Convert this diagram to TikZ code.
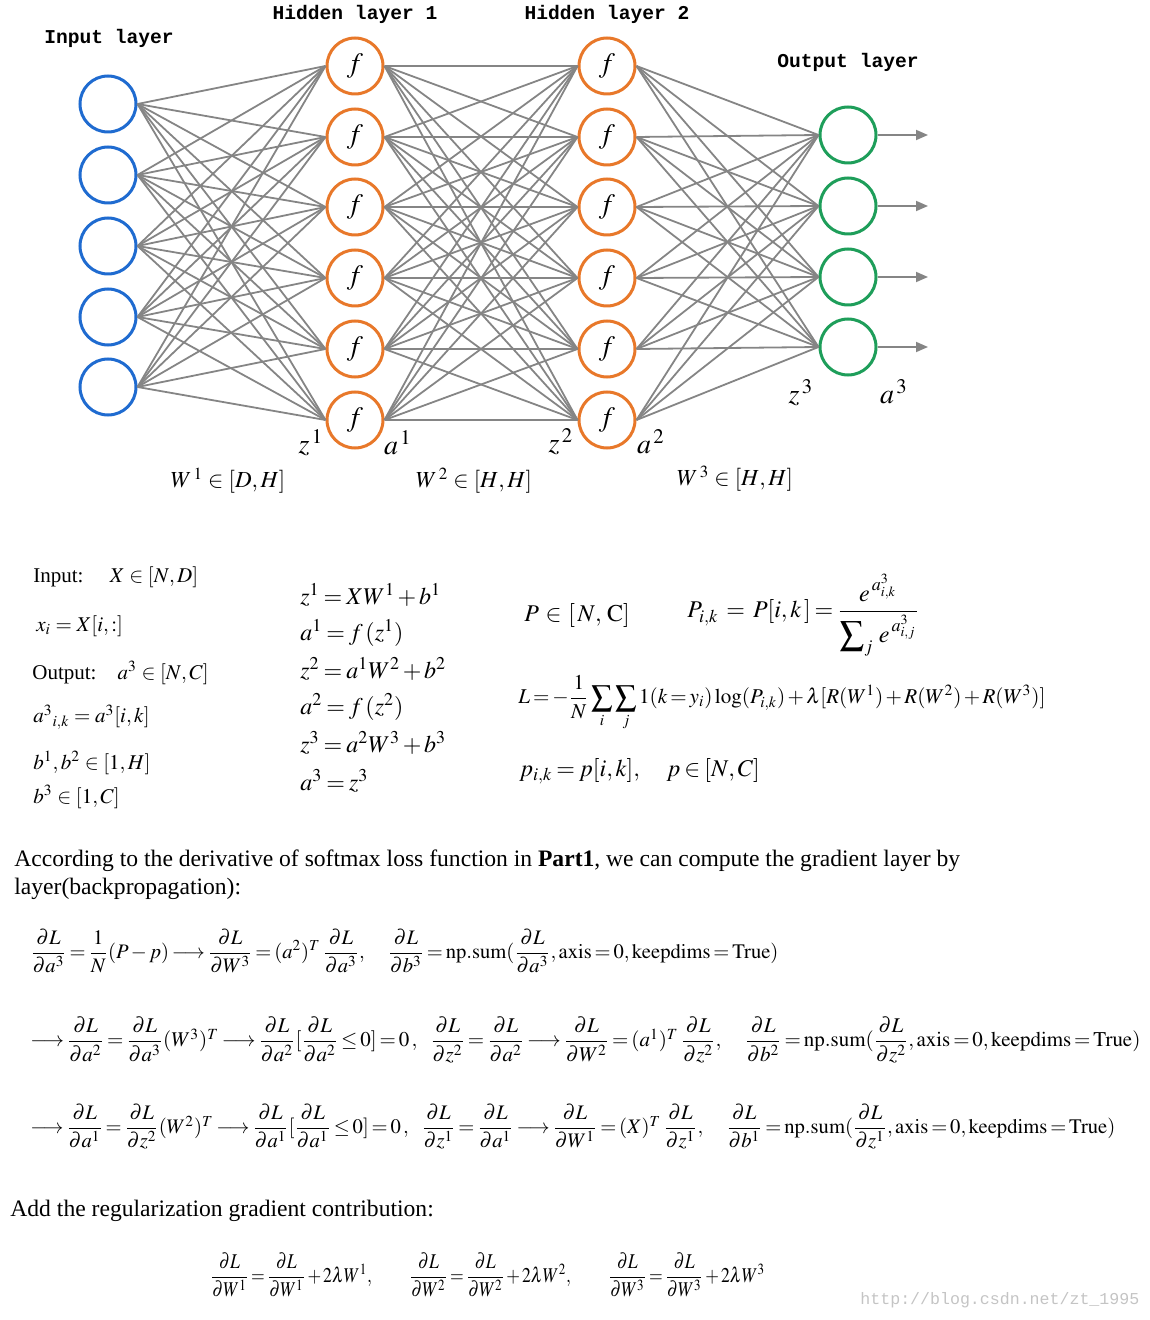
\documentclass[tikz,border=0pt]{standalone}
\usepackage{amsmath}
\usepackage{mathptmx}
\usepackage[no-math]{fontspec}
\setmainfont{Liberation Serif}
\newfontfamily\layerfont{Liberation Mono}
\usetikzlibrary{positioning, arrows.meta, calc}
\usepackage{xcolor}
\definecolor{netBlue}{HTML}{1F6BD0}
\definecolor{netOrange}{HTML}{E8782A}
\definecolor{netGreen}{HTML}{1E9E5A}
\definecolor{netGray}{HTML}{858585}
\definecolor{netMark}{HTML}{C4C4C4}
\newcommand{\dLd}[1]{\dfrac{\partial L}{\partial #1}}
\newcommand{\tightMath}{\thickmuskip=3mu plus 2mu\medmuskip=2mu plus 1mu}
\newcommand{\tighterMath}{\thickmuskip=2.5mu plus 1mu\medmuskip=2mu plus 1mu}

\begin{document}
\begin{tikzpicture}[
    x=0.5pt, y=-0.5pt,
    neuron/.style={
      circle, line width=1.5pt, fill=white,
      minimum size=28pt, inner sep=0pt
    },
    inNeuron/.style={neuron, draw=netBlue},
    hidNeuron/.style={neuron, draw=netOrange, font=\fontsize{14}{14}\selectfont},
    outNeuron/.style={neuron, draw=netGreen},
    layerTitle/.style={font=\layerfont\bfseries\fontsize{9.8}{10}\selectfont},
    link/.style={draw=netGray, line width=0.9pt},
    outArr/.style={link, -{Triangle[length=6pt, width=5pt]}},
    varLabel/.style={font=\fontsize{14}{14}\selectfont},
    wLabel/.style={font=\fontsize{11.5}{12}\selectfont},
    eqnSmall/.style={anchor=west, inner sep=0pt, font=\fontsize{10.5}{12}\selectfont},
    eqn/.style={anchor=west, inner sep=0pt, font=\fontsize{12}{14}\selectfont\tightMath},
    eqnGrad/.style={anchor=west, inner sep=0pt, font=\fontsize{10.5}{13}\selectfont\tighterMath},
    bodyText/.style={anchor=west, inner sep=0pt, align=left, font=\fontsize{11.8}{13.8}\selectfont}
  ]
  \useasboundingbox (0,0) rectangle (1149,1320);

  % Neuronas
  \foreach \i/\y in {1/104,2/175,3/246,4/317,5/387}
    \node[inNeuron] (in\i) at (108,\y) {};
  \foreach \i/\y in {1/66,2/137,3/207,4/278,5/349,6/420} {
    \node[hidNeuron] (ha\i) at (355,\y) {$f$};
    \node[hidNeuron] (hb\i) at (607,\y) {$f$};
  }
  \foreach \i/\y in {1/135,2/206,3/277,4/347} {
    \node[outNeuron] (out\i) at (848,\y) {};
    \coordinate (end\i) at (928,\y);
  }

  % Conexiones
  \foreach \i in {1,...,5}
    \foreach \j in {1,...,6}
      \draw[link] (in\i.east) -- (ha\j.west);
  \foreach \i in {1,...,6}
    \foreach \j in {1,...,6}
      \draw[link] (ha\i.east) -- (hb\j.west);
  \foreach \i in {1,...,6}
    \foreach \j in {1,...,4}
      \draw[link] (hb\i.east) -- (out\j.west);
  \foreach \j in {1,...,4}
    \draw[outArr] (out\j.east) -- (end\j);

  % Titulos de capas
  \node[layerTitle] (tIn)  at (109,38) {Input layer};
  \node[layerTitle] (tHa)  at (355,14) {Hidden layer 1};
  \node[layerTitle] (tHb)  at (607,14) {Hidden layer 2};
  \node[layerTitle] (tOut) at (848,62) {Output layer};

  % Variables
  \node[varLabel] (z1) at (311,443) {$z^{\,1}$};
  \node[varLabel] (a1) at (398,443) {$a^{\,1}$};
  \node[varLabel] (z2) at (561,442) {$z^{\,2}$};
  \node[varLabel] (a2) at (651,442) {$a^{\,2}$};
  \node[varLabel] (z3) at (801,393) {$z^{\,3}$};
  \node[varLabel] (a3) at (894,392) {$a^{\,3}$};
  \node[wLabel] (w1) at (228,481) {$W^{\,1}\in[D,H]$};
  \node[wLabel] (w2) at (474,481) {$W^{\,2}\in[H,H]$};
  \node[wLabel] (w3) at (735,479) {$W^{\,3}\in[H,H]$};

  % Dimensiones
  \node[eqnSmall] (dimX)  at (33,577) {Input:\quad\ $X\in[N,D]$};
  \node[eqnSmall] (rowX)  at (36,626) {$x_i = X[i,:]$};
  \node[eqnSmall] (dimA)  at (32,673) {Output:\quad $a^3\in[N,C]$};
  \node[eqnSmall] (elemA) at (33,717) {$a^3{}_{i,k} = a^3[i,k]$};
  \node[eqnSmall] (dimB)  at (33,763) {$b^1,b^2\in[1,H]$};
  \node[eqnSmall] (dimBc) at (33,797) {$b^3\in[1,C]$};

  % Forward
  \node[eqn] (fz1) at (300,595) {$z^1 = XW^{1} + b^1$};
  \node[eqn] (fa1) at (300,633) {$a^1 = f\,(z^1)$};
  \node[eqn] (fz2) at (300,669) {$z^2 = a^1W^{2} + b^2$};
  \node[eqn] (fa2) at (300,707) {$a^2 = f\,(z^2)$};
  \node[eqn] (fz3) at (300,743) {$z^3 = a^2W^{3} + b^3$};
  \node[eqn] (fa3) at (300,781) {$a^3 = z^{3}$};

  % Softmax y perdida
  \node[eqn] (dimP) at (524,615) {$P\,\in\,[\,N,\,\mathrm{C}]$};
  \node[eqn] (soft) at (687,615) {$P_{i,k}\;=\;P[i,k\,] = \dfrac{e^{\,a^{3}_{i,k}}}{\displaystyle\sum\nolimits_j\, e^{\,a^{3}_{i,j}}}$};
  \node[eqnGrad] (loss) at (518,703) {\resizebox{263.5pt}{!}{$\displaystyle L = -\frac{1}{N}\sum_i\sum_j 1(k=y_i)\log(P_{i,k}) + \lambda[R(W^1)+R(W^2)+R(W^3)]$}};
  \node[eqn] (lbl)  at (519,771) {$p_{i,k} = p[i,k],\quad p\in[N,C]$};

  % Texto
  \node[bodyText] (intro) at (14,875) {According to the derivative of softmax loss function in \textbf{Part1}, we can compute the gradient layer by\\layer(backpropagation):};

  % Gradientes
  \node[eqnGrad] (g3) at (30,951) {\resizebox{374pt}{!}{$\dLd{a^3} = \dfrac{1}{N}(P-p)\longrightarrow \dLd{W^3} = (a^2)^T\,\dLd{a^3},\quad \dLd{b^3} = \mathrm{np.sum}(\dLd{a^3},\mathrm{axis}=0,\mathrm{keepdims}=\mathrm{True})$}};
  \node[eqnGrad] (g2) at (30,1040) {\resizebox{555pt}{!}{$\longrightarrow\dLd{a^2} = \dLd{a^3}(W^3)^T\longrightarrow\dLd{a^2}[\dLd{a^2}\le 0] = 0\,,\ \ \dLd{z^2} = \dLd{a^2}\longrightarrow\dLd{W^2} = (a^1)^T\,\dLd{z^2},\quad \dLd{b^2} = \mathrm{np.sum}(\dLd{z^2},\mathrm{axis}=0,\mathrm{keepdims}=\mathrm{True})$}};
  \node[eqnGrad] (g1) at (30,1127) {\resizebox{542.5pt}{!}{$\longrightarrow\dLd{a^1} = \dLd{z^2}(W^2)^T\longrightarrow\dLd{a^1}[\dLd{a^1}\le 0] = 0\,,\ \ \dLd{z^1} = \dLd{a^1}\longrightarrow\dLd{W^1} = (X)^T\,\dLd{z^1},\quad \dLd{b^1} = \mathrm{np.sum}(\dLd{z^1},\mathrm{axis}=0,\mathrm{keepdims}=\mathrm{True})$}};

  % Regularizacion
  \node[bodyText] (regTxt) at (10,1211) {Add the regularization gradient contribution:};
  \node[eqnGrad] (reg) at (210,1275) {\scalebox{0.84}[1]{$\dLd{W^1} = \dLd{W^1} + 2\lambda W^1,\qquad \dLd{W^2} = \dLd{W^2} + 2\lambda W^2,\qquad \dLd{W^3} = \dLd{W^3} + 2\lambda W^3$}};

  \node[anchor=west, inner sep=0pt, text=netMark, font=\layerfont\fontsize{8.3}{9}\selectfont] (mark) at (860,1300) {http://blog.csdn.net/zt\_1995};
\end{tikzpicture}
\end{document}
